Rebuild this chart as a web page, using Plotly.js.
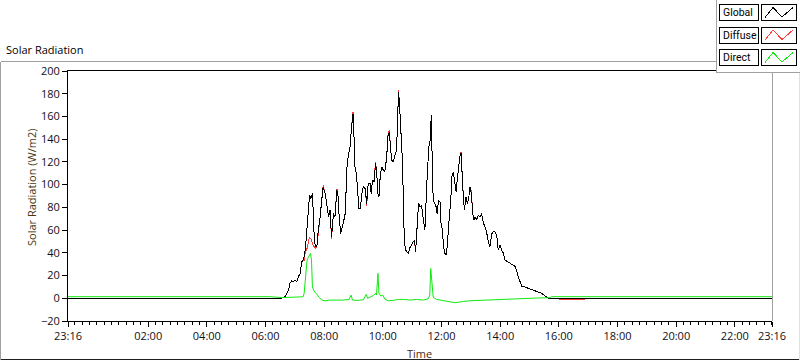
<!DOCTYPE html>
<html><head><meta charset="utf-8">
<script src="https://cdn.plot.ly/plotly-3.0.1.min.js"></script>
<style>html,body{margin:0;padding:0;background:#fff;overflow:hidden}#chart{width:800px;height:361px}
.scatterlayer path.js-line[style*="rgb(0, 0, 0)"]{shape-rendering:crispEdges}
.scatterlayer path.js-line[style*="rgb(255, 60, 60)"]{shape-rendering:crispEdges}
.shapelayer path{shape-rendering:crispEdges}
</style>
</head><body><div id="chart"></div>
<script>
// ---------- data ----------
const dayA = '2024-03-14';
const dayB = '2024-03-15';
const startTime = dayA + ' 23:16';
const endTime = dayB + ' 23:16';

const tickTimes = ['02:00','04:00','06:00','08:00','10:00','12:00','14:00','16:00','18:00','20:00','22:00'];
const tickLabels = ['23:16','02:00','04:00','06:00','08:00','10:00','12:00','14:00','16:00','18:00','20:00','22:00','23:16'];

const globalTimes = ['06:09','06:33','06:40','06:47','06:50','06:54','06:57','07:00','07:04','07:07','07:11','07:14','07:17','07:19','07:22','07:24','07:28','07:30','07:33','07:36','07:38','07:40','07:43','07:45','07:48','07:51','07:55','07:58','08:02','08:05','08:09','08:12','08:15','08:19','08:22','08:26','08:28','08:31','08:34','08:36','08:39','08:43','08:45','08:47','08:50','08:53','08:56','08:59','09:01','09:03','09:06','09:09','09:11','09:14','09:17','09:20','09:24','09:27','09:30','09:34','09:36','09:39','09:42','09:45','09:47','09:50','09:52','09:55','09:58','10:01','10:04','10:08','10:10','10:13','10:15','10:18','10:21','10:25','10:28','10:30','10:32','10:34','10:37','10:40','10:42','10:44','10:47','10:49','10:52','10:56','10:59','11:02','11:05','11:07','11:10','11:13','11:16','11:19','11:23','11:26','11:30','11:32','11:34','11:37','11:39','11:41','11:43','11:46','11:49','11:51','11:54','11:57','11:59','12:02','12:04','12:07','12:10','12:12','12:14','12:16','12:19','12:21','12:24','12:27','12:30','12:32','12:35','12:38','12:40','12:42','12:45','12:47','12:50','12:53','12:56','12:58','13:01','13:04','13:06','13:09','13:12','13:15','13:19','13:22','13:26','13:29','13:32','13:36','13:39','13:43','13:46','13:49','13:53','13:56','14:00','14:03','14:06','14:10','14:17','14:23','14:30','14:34','14:37','14:41','14:44','14:51','14:58','15:04','15:11','15:18','15:25','15:32','15:38','15:42'];

const globalVals = [0,0.2,1.3,7.2,13.1,15.4,14.5,16.0,14.5,18.9,21.9,32.1,33.6,36.5,45.3,57.0,80.5,90.7,87.8,92.2,71.7,49.7,45.3,45.3,60.0,68.8,86.3,98.1,92.2,83.4,71.7,77.5,54.1,74.6,71.7,95.1,92.2,68.8,57.0,61.4,65.8,74.6,98.1,118.6,127.4,133.3,150.9,162.5,142.0,115.7,109.8,86.3,79,79,92.2,98.1,96.6,83.4,101.0,101.0,92.2,103.9,102.5,118.6,112.7,92.2,89.3,109.8,115.7,112.7,111.2,124.5,142.0,146.4,136.2,121.5,120.1,125.9,130.3,153.8,181.6,171.3,147.9,121.5,86.3,48.2,42.4,40.9,39.5,45.3,46.8,49.7,51.2,40.9,65.8,83.4,80.5,81.9,68.8,60.0,101.0,124.5,133.3,139.1,161.1,121.5,86.3,83.4,80.5,74.6,86.3,84.8,65.8,60.0,45.3,39.5,38.0,48.2,62.9,71.7,86.3,106.8,111.2,101.0,93.7,103.9,115.7,125.9,127.4,106.8,86.3,77.5,89.3,83.4,89.3,98.1,92.2,74.6,68.8,71.7,68.8,73.1,71.7,74.6,65.8,62.9,58.5,49.7,45.3,57.0,58.5,58.5,55.5,42.4,46.8,42.4,40.2,33.6,32.1,30.1,28.3,24.2,18.9,13.7,10.7,9.8,9.0,7.8,6.6,5.7,4.3,1.9,0.2,0];

const diffuseVals = [0,0.2,1.3,7.2,13.1,15.4,14.5,16.0,14.5,18.9,21.9,32.1,33.0,33.5,42.0,42.0,50.0,54.0,52.0,48.0,46.0,45.0,44.0,45.3,60.0,68.8,86.3,99.5,92.2,83.4,71.7,77.5,52.5,74.6,71.7,96.5,92.2,68.8,57.0,61.4,65.8,74.6,98.1,118.6,127.4,133.3,150.9,164.0,142.0,115.7,109.8,86.3,79,79,92.2,98.1,96.6,81.5,101.0,101.0,92.2,103.9,102.5,120.0,112.7,92.2,89.3,109.8,115.7,112.7,111.2,124.5,142.0,148.0,136.2,121.5,120.1,125.9,130.3,153.8,183.0,171.3,147.9,121.5,86.3,48.2,42.4,40.9,39.5,45.3,46.8,49.7,49.5,40.9,65.8,83.4,80.5,81.9,68.8,60.0,101.0,124.5,133.3,139.1,160.0,121.5,86.3,83.4,80.5,74.6,86.3,84.8,65.8,60.0,45.3,39.5,38.0,48.2,62.9,71.7,86.3,106.8,111.2,101.0,93.7,103.9,115.7,125.9,129.0,106.8,86.3,77.5,89.3,83.4,89.3,98.1,94.0,74.6,68.8,71.7,68.8,73.1,71.7,74.6,65.8,62.9,58.5,49.7,45.3,57.0,58.5,58.5,55.5,42.4,46.8,42.4,40.2,33.6,32.1,30.1,28.3,24.2,18.9,13.7,10.7,9.8,9.0,7.8,6.6,5.7,4.3,1.9,0.2,0];

const diffuseNightTimes = ['15:50','16:05','16:50','17:00'];
const diffuseNightVals = [0,-1,-1,0];

const directTimes = ['06:09','06:33','07:17','07:19','07:22','07:25','07:28','07:30','07:32','07:34','07:36','07:39','07:43','07:46','07:50','07:55','08:02','08:12','08:26','08:39','08:51','08:55','08:58','09:07','09:20','09:26','09:29','09:34','09:41','09:45','09:47','09:50','09:52','09:56','10:00','10:04','10:11','10:21','10:32','10:42','10:56','11:09','11:23','11:33','11:36','11:38','11:41','11:43','11:50','12:00','12:11','12:21','12:28','12:34','12:45','12:58','13:12','13:26','13:39','13:53','14:06','14:20','14:47','15:14','15:42','15:45'];
const directVals = [1.4,0.6,1.3,4.3,21.9,33.6,36.5,38.0,39.5,33.6,10.0,6.6,4.3,2.2,0.8,-1.6,-2.2,-1.6,-1.9,-1.6,-1.0,2.8,-1.6,-1.9,-1.3,3.4,0,0.8,2.5,4.3,2.8,21.9,4.3,1.9,2.8,-0.7,-2.2,-1.9,-1.0,-1.0,-1.6,-1.0,-1.6,-0.4,2.8,26.2,7.2,0.8,-1.0,-1.6,-2.2,-3.4,-3.9,-3.4,-2.8,-2.2,-1.9,-1.6,-1.6,-1.3,-0.7,-0.4,0,0.2,0.5,1.4];
const directNight = 1.4;

const seriesNames = ['Global','Diffuse','Direct'];
const seriesColors = ['#000000','#ff3c3c','#12e812'];

// ---------- build ----------
const onB = t => dayB + ' ' + t;
const gx = [startTime].concat(globalTimes.map(onB), [endTime]);
const gy = [0].concat(globalVals, [0]);
const dx = [startTime].concat(globalTimes.map(onB), diffuseNightTimes.map(onB), [endTime]);
const dy = [0].concat(diffuseVals, diffuseNightVals, [0]);
const rx = [startTime].concat(directTimes.map(onB), [endTime]);
const ry = [directNight].concat(directVals, [directNight]);

const traces = [
  {x: dx, y: dy, name: seriesNames[1], type: 'scatter', mode: 'lines', line: {color: seriesColors[1], width: 1}},
  {x: gx, y: gy, name: seriesNames[0], type: 'scatter', mode: 'lines', line: {color: seriesColors[0], width: 1}},
  {x: rx, y: ry, name: seriesNames[2], type: 'scatter', mode: 'lines', line: {color: seriesColors[2], width: 1}}
];

// page geometry (decoration only)
const L = 68, R = 772, T = 71, B = 321;
const px = x => (x - L) / (R - L);
const py = y => (B - y) / (B - T);

const shapes = [];
const annotations = [];
function line(x0, y0, x1, y1, color) {
  shapes.push({type: 'line', xref: 'paper', yref: 'paper', x0: px(x0), y0: py(y0), x1: px(x1), y1: py(y1), line: {color: color, width: 1}, layer: 'above'});
}
function rect(x0, y0, x1, y1, fill, lc) {
  shapes.push({type: 'rect', xref: 'paper', yref: 'paper', x0: px(x0), y0: py(y0), x1: px(x1), y1: py(y1), fillcolor: fill, line: {color: lc || 'rgba(0,0,0,0)', width: lc ? 1 : 0}, layer: 'above'});
}
// outer frame
line(0.5, 61.5, 717, 61.5, '#a0a0a0');
line(0.5, 61.5, 0.5, 359.5, '#a0a0a0');
line(0.5, 359.5, 799.5, 359.5, '#202020');
line(799.5, 72, 799.5, 359.5, '#e0e0e0');
// right edge of plot area
line(772, 72, 772, 321, '#a0a0a0');
// legend panel
rect(716.5, 0, 800, 72.5, '#ffffff');
line(716.5, 0, 716.5, 72.5, '#a0a0a0');
line(716.5, 72.5, 800, 72.5, '#a0a0a0');
const rows = [[4.5, 20.5], [27, 43], [49.5, 65.5]];
rows.forEach((r, i) => {
  rect(719.5, r[0], 758.5, r[1], '#ffffff', '#000000');
  rect(761.5, r[0], 796.5, r[1], '#ffffff', '#000000');
  const pts = [[765, r[1] - 3], [773, r[0] + 3], [782, r[1] - 3.5], [793, r[0] + 3]];
  const path = 'M' + pts.map(p => px(p[0]) + ',' + py(p[1])).join(' L');
  shapes.push({type: 'path', xref: 'paper', yref: 'paper', path: path, line: {color: seriesColors[i], width: 1}, layer: 'above'});
  annotations.push({xref: 'paper', yref: 'paper', x: px(721), y: py((r[0] + r[1]) / 2), xanchor: 'left', yanchor: 'middle', text: seriesNames[i], showarrow: false, font: {family: 'Roboto, sans-serif', size: 10.5, color: '#000'}});
});
annotations.push({xref: 'paper', yref: 'paper', x: px(4), y: py(50), xanchor: 'left', yanchor: 'middle', text: 'Solar Radiation', showarrow: false, font: {size: 11, color: '#000'}});
annotations.push({xref: 'paper', yref: 'paper', x: px(31), y: py(188), xanchor: 'center', yanchor: 'middle', textangle: -90, text: 'Solar Radiation (W/m2)', showarrow: false, font: {size: 11, color: '#4a3810'}});
annotations.push({xref: 'paper', yref: 'paper', x: px(419), y: py(353), xanchor: 'center', yanchor: 'middle', text: 'Time', showarrow: false, font: {size: 11, color: '#4a2a14'}});

const layout = {
  width: 800, height: 361,
  margin: {l: L, r: 800 - R, t: T, b: 361 - B, pad: 0},
  paper_bgcolor: '#ffffff', plot_bgcolor: '#ffffff',
  font: {family: 'Open Sans, sans-serif', size: 11, color: '#101018'},
  showlegend: false,
  xaxis: {
    type: 'date', range: [startTime, endTime], fixedrange: true,
    tickmode: 'array',
    tickvals: [startTime].concat(tickTimes.map(onB), [endTime]),
    ticktext: tickLabels,
    ticks: 'outside', ticklen: 5, tickcolor: '#000', tickwidth: 1,
    minor: {ticks: 'outside', ticklen: 3, tickcolor: '#000', dtick: 15 * 60 * 1000, tick0: dayA + ' 00:00', showgrid: false},
    showline: true, linecolor: '#000', linewidth: 1, mirror: true,
    showgrid: false, zeroline: false,
    tickfont: {size: 11, color: '#101018'}
  },
  yaxis: {
    range: [-20, 200], dtick: 20, tick0: 0, fixedrange: true,
    ticks: 'outside', ticklen: 5, tickcolor: '#000', tickwidth: 1,
    showline: true, linecolor: '#000', linewidth: 1,
    showgrid: false, zeroline: false,
    tickfont: {size: 11, color: '#101018'}
  },
  shapes: shapes,
  annotations: annotations
};

Plotly.newPlot('chart', traces, layout, {staticPlot: true, displayModeBar: false});
</script></body></html>
